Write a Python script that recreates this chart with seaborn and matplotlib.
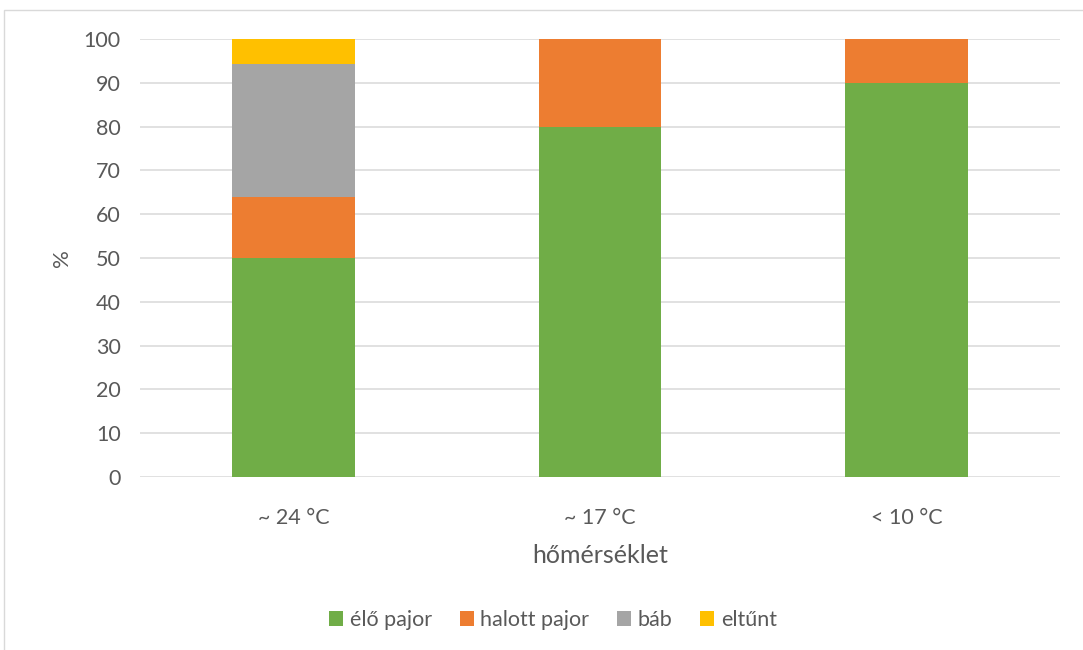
import matplotlib
matplotlib.use("Agg")
import matplotlib.pyplot as plt
import seaborn as sns
import numpy as np
import pandas as pd
from matplotlib.patches import Rectangle, Patch

categories = ["~ 24 °C", "~ 17 °C", "< 10 °C"]
series_names = ["élő pajor", "halott pajor", "báb", "eltűnt"]
elo_pajor = [50, 80, 90]
halott_pajor = [14, 20, 10]
bab = [30.4, 0, 0]
eltunt = [5.6, 0, 0]
yticks = list(range(0, 101, 10))
colors = ["#70AD47", "#ED7D31", "#A5A5A5", "#FFC000"]

sns.set_theme(style="white")
plt.rcParams['font.family'] = ['Lato', 'DejaVu Sans']
txt = "#595959"

fig = plt.figure(figsize=(10.83, 6.5), dpi=100)
ax = fig.add_axes([140/1083, 1-477/650, 920/1083, 438/650])

series = [elo_pajor, halott_pajor, bab, eltunt]
cum = np.cumsum(np.array(series, dtype=float), axis=0)
for i in reversed(range(len(series))):
    df = pd.DataFrame({"cat": categories, "val": cum[i]})
    sns.barplot(data=df, x="cat", y="val", color=colors[i], width=0.4,
                saturation=1, ax=ax, zorder=3, linewidth=0)

ax.set_ylim(0, 100)
ax.set_yticks(yticks)
ax.set_xlim(-0.5, 2.5)
ax.grid(axis="y", color="#D9D9D9", linewidth=1.1, zorder=0)
ax.set_axisbelow(True)
for s in ax.spines.values():
    s.set_visible(False)
ax.tick_params(axis="both", length=0, labelsize=15.5, colors=txt)
ax.tick_params(axis="y", pad=14)
ax.tick_params(axis="x", pad=22)
ax.set_xlabel("hőmérséklet", fontsize=18, color=txt, labelpad=12)
ax.set_ylabel("%", fontsize=16, color=txt, labelpad=8)

handles = [Patch(facecolor=c, edgecolor="none") for c in colors]
fig.legend(handles, series_names, loc="center", bbox_to_anchor=(553/1083, 1-620/650),
           ncol=4, frameon=False, fontsize=15.5, labelcolor=txt, handlelength=0.65,
           handleheight=0.65, handletextpad=0.3, columnspacing=1.3)

fig.patches.append(Rectangle((4/1083, -0.1), 1.2, 1-10/650+0.1, transform=fig.transFigure,
                             fill=False, edgecolor="#D9D9D9", linewidth=1))

fig.savefig("out.png", dpi=100)
